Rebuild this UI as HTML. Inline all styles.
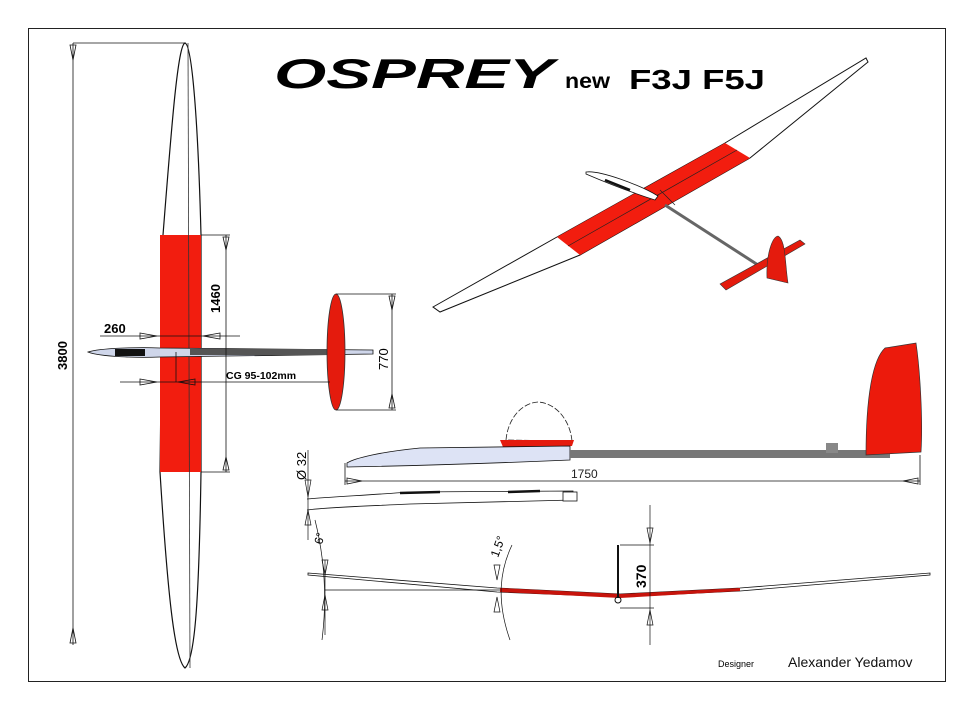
<!DOCTYPE html>
<html><head><style>
html,body{margin:0;padding:0;background:#fff;}
svg{display:block;}
text{font-family:"Liberation Sans",sans-serif;}
</style></head><body>
<svg width="974" height="725" viewBox="0 0 974 725" xmlns="http://www.w3.org/2000/svg">
<rect x="0" y="0" width="974" height="725" fill="#fff"/>
<rect x="28.5" y="28.5" width="917" height="653" fill="none" stroke="#222" stroke-width="1"/>

<!-- Title -->
<text x="274" y="88" font-size="42" font-weight="bold" font-style="italic" font-family="Liberation Serif" textLength="280" lengthAdjust="spacingAndGlyphs">OSPREY</text>
<text x="565" y="88" font-size="21" font-weight="bold" textLength="45" lengthAdjust="spacingAndGlyphs">new</text>
<text x="629" y="89" font-size="28" font-weight="bold" textLength="136" lengthAdjust="spacingAndGlyphs">F3J F5J</text>

<!-- TOP VIEW -->
<path d="M185,43 C178,45 172,120 163,235 L160,472 C168,600 175,660 185,668 C195,660 199,600 201,472 L201,235 C198,120 192,45 185,43 Z" fill="#fff" stroke="#111" stroke-width="1.2"/>
<rect x="160" y="235" width="41" height="237" fill="#f21d0f"/>
<line x1="188" y1="43" x2="190" y2="668" stroke="#333" stroke-width="0.8"/>
<path d="M88,352 C100,348 140,347 160,348 L373,350 L373,354 L160,357 C140,358 100,357 88,352 Z" fill="#cfd6ea" stroke="#111" stroke-width="0.8"/>
<rect x="115" y="349" width="30" height="7" fill="#111"/>
<rect x="190" y="349" width="140" height="6" fill="#555"/>
<ellipse cx="336" cy="352" rx="9" ry="58" fill="#e41b0d" stroke="#333" stroke-width="0.8"/>
<g stroke="#111" stroke-width="0.8" fill="none">
<line x1="73" y1="43" x2="73" y2="645"/><line x1="73" y1="43" x2="185" y2="43"/>
<path d="M70,45 L73,60 L76,45 Z M70,643 L73,628 L76,643Z"/>
<line x1="226" y1="235" x2="226" y2="472"/><line x1="201" y1="235" x2="230" y2="235"/><line x1="201" y1="472" x2="230" y2="472"/>
<path d="M223,237 L226,250 L229,237 Z M223,470 L226,457 L229,470Z"/>
<line x1="100" y1="336" x2="240" y2="336"/>
<path d="M140,333 L157,336 L140,339Z M220,333 L203,336 L220,339Z"/>
<line x1="120" y1="382" x2="330" y2="382"/>
<path d="M140,379 L157,382 L140,385Z M195,379 L178,382 L195,385Z"/>
<line x1="176" y1="352" x2="176" y2="382"/>
<line x1="336" y1="294" x2="396" y2="294"/><line x1="336" y1="410" x2="396" y2="410"/>
<line x1="392" y1="294" x2="392" y2="410"/>
<path d="M389,296 L392,310 L395,296Z M389,408 L392,394 L395,408Z"/>
</g>
<text x="0" y="0" font-size="13" font-weight="bold" transform="translate(67,370) rotate(-90)">3800</text>
<text x="0" y="0" font-size="13" font-weight="bold" transform="translate(220,313) rotate(-90)">1460</text>
<text x="104" y="333" font-size="13" font-weight="bold">260</text>
<text x="226" y="379" font-size="10.5" font-weight="bold">CG 95-102mm</text>
<text x="0" y="0" font-size="13" transform="translate(388,370) rotate(-90)">770</text>

<!-- 3D VIEW -->
<path d="M433,307 L557,237 L725,143 L866,58 L868,62 L750,158 L580,255 L440,312 Z" fill="#fff" stroke="#111" stroke-width="1"/>
<path d="M557,237 L725,143 L750,158 L580,255 Z" fill="#f21d0f"/>
<line x1="568" y1="246" x2="737" y2="150" stroke="#222" stroke-width="0.7"/>
<line x1="660" y1="190" x2="675" y2="205" stroke="#222" stroke-width="0.7"/>
<path d="M586,172 C600,170 640,185 658,196 L655,200 C630,192 600,180 586,174 Z" fill="#fff" stroke="#111" stroke-width="0.8"/>
<line x1="605" y1="180" x2="630" y2="190" stroke="#111" stroke-width="2.5"/>
<line x1="665" y1="205" x2="758" y2="265" stroke="#666" stroke-width="3"/>
<path d="M720,284 L800,240 L805,244 L726,290 Z" fill="#e41b0d" stroke="#333" stroke-width="0.6"/>
<path d="M767,278 C766,255 772,237 778,236 C786,240 785,265 788,283 Z" fill="#e41b0d" stroke="#333" stroke-width="0.6"/>

<!-- SIDE VIEW -->
<path d="M506,440 C508,418 522,403 538,402 C556,403 570,420 572,441 Z" fill="#fff" stroke="#222" stroke-width="0.8" stroke-dasharray="6,2"/>
<path d="M500,440 L574,440 L572,446 L503,447 Z" fill="#e41b0d"/>
<path d="M347,463 C355,458 380,452 420,448 L570,446 L570,460 C500,463 400,466 347,467 Z" fill="#dde3f5" stroke="#111" stroke-width="0.8"/>
<rect x="570" y="450" width="320" height="8" fill="#777"/>
<path d="M866,455 C866,400 872,360 885,348 L916,343 C920,370 923,420 921,452 Z" fill="#ec1a0c" stroke="#333" stroke-width="0.7"/>
<rect x="826" y="443" width="12" height="10" fill="#888"/>
<g stroke="#111" stroke-width="0.8" fill="none">
<line x1="345" y1="481" x2="920" y2="481"/>
<line x1="345" y1="463" x2="345" y2="485"/><line x1="920" y1="455" x2="920" y2="485"/>
<path d="M347,478 L362,481 L347,484Z M918,478 L903,481 L918,484Z"/>
</g>
<text x="571" y="478" font-size="12" fill="#222">1750</text>
<path d="M307,499 C330,497 370,495 410,492 L573,491 L573,500 L410,504 C370,506 330,507 307,510" fill="#fff" stroke="#111" stroke-width="0.8"/>
<line x1="400" y1="493" x2="440" y2="492" stroke="#111" stroke-width="2.5"/>
<line x1="508" y1="492" x2="540" y2="491" stroke="#111" stroke-width="2.5"/>
<rect x="563" y="492" width="14" height="9" fill="#fff" stroke="#111" stroke-width="0.8"/>
<g stroke="#111" stroke-width="0.7" fill="none">
<line x1="308" y1="450" x2="308" y2="540"/>
<path d="M305,480 L308,497 L311,480Z M305,525 L308,510 L311,525Z"/>
</g>
<text x="0" y="0" font-size="13" transform="translate(306,480) rotate(-90)">Ø 32</text>

<!-- FRONT VIEW -->
<path d="M308,573 L497,588 L620,594 L740,588 L930,573 L930,575 L740,591 L620,597 L497,592 L308,575 Z" fill="#fff" stroke="#111" stroke-width="0.8"/>
<path d="M500,588 L620,594 L740,588 L740,591 L620,598 L500,592 Z" fill="#c7140c"/>
<line x1="618" y1="545" x2="618" y2="598" stroke="#111" stroke-width="2"/>
<circle cx="618" cy="600" r="3" fill="none" stroke="#111"/>
<g stroke="#111" stroke-width="0.7" fill="none">
<line x1="325" y1="590" x2="500" y2="590"/>
<line x1="325" y1="560" x2="325" y2="635"/>
<path d="M322,560 L325,575 L328,560Z M322,610 L325,595 L328,610Z"/>
<path d="M315,520 C325,560 327,600 322,640"/>
<path d="M512,545 C500,570 496,600 510,640"/>
<path d="M494,565 L497,580 L500,565Z M494,612 L497,597 L500,612Z"/>
<line x1="620" y1="545" x2="654" y2="545"/><line x1="620" y1="608" x2="654" y2="608"/>
<line x1="650" y1="505" x2="650" y2="645"/>
<path d="M647,528 L650,543 L653,528Z M647,625 L650,610 L653,625Z"/>
</g>
<text x="0" y="0" font-size="12" transform="translate(322,545) rotate(-75)">6°</text>
<text x="0" y="0" font-size="12" transform="translate(498,558) rotate(-70)">1,5°</text>
<text x="0" y="0" font-size="14" font-weight="bold" transform="translate(646,588) rotate(-90)">370</text>

<text x="718" y="667" font-size="9" font-family="Liberation Mono">Designer</text>
<text x="788" y="667" font-size="14" fill="#111">Alexander Yedamov</text>
</svg>
</body></html>
